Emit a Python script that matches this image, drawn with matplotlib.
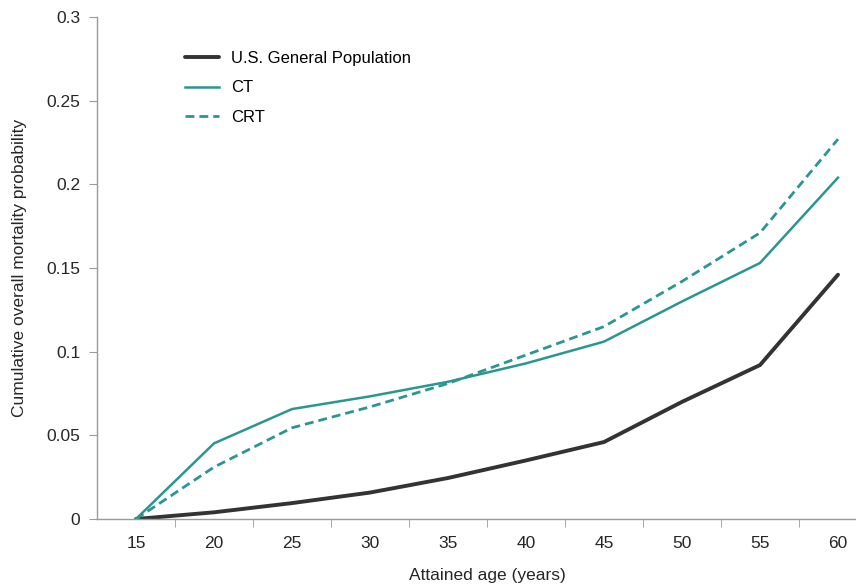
#!/usr/bin/env python3
"""Cumulative overall mortality by attained age: CT, CRT vs U.S. general population."""

import matplotlib

matplotlib.use("Agg")
import matplotlib.pyplot as plt

AGES = ["15", "20", "25", "30", "35", "40", "45", "50", "55", "60"]
GENERAL_POP = [0.0, 0.004, 0.0095, 0.0158, 0.0245, 0.035, 0.046, 0.070, 0.092, 0.146]
CT = [0.0, 0.0452, 0.0657, 0.0733, 0.082, 0.093, 0.106, 0.130, 0.153, 0.204]
CRT = [0.0, 0.031, 0.0545, 0.0670, 0.081, 0.098, 0.115, 0.142, 0.171, 0.227]
Y_TICKS = [0, 0.05, 0.1, 0.15, 0.2, 0.25, 0.3]
Y_LABELS = ["0", "0.05", "0.1", "0.15", "0.2", "0.25", "0.3"]

TEAL = "#2a9690"
DARK = "#333333"
AXIS = "#9a9a9a"
TEXT = "#262626"


def main() -> int:
    plt.rcParams.update(
        {
            "font.family": ["Liberation Sans", "DejaVu Sans"],
            "font.size": 12.5,
        }
    )

    fig = plt.figure(figsize=(8.56, 5.85), dpi=100, facecolor="white")
    # plot area runs past the right edge of the picture, as in the reference crop
    ax = fig.add_axes([97 / 856, 1 - 519 / 585, 780 / 856, 502 / 585])

    x = list(range(len(AGES)))
    ax.plot(x, GENERAL_POP, color=DARK, lw=2.8, label="U.S. General Population", solid_capstyle="round")
    ax.plot(x, CT, color=TEAL, lw=1.8, label="CT")
    ax.plot(x, CRT, color=TEAL, lw=2.0, ls=(0, (3.2, 1.8)), label="CRT")

    ax.set_xlim(-0.5, len(AGES) - 0.5)
    ax.set_ylim(0, 0.3)
    ax.set_yticks(Y_TICKS, Y_LABELS)
    ax.set_xticks(x, AGES)
    ax.set_xticks([i + 0.5 for i in x[:-1]], minor=True)

    for side in ["top", "right"]:
        ax.spines[side].set_visible(False)
    for side in ["left", "bottom"]:
        ax.spines[side].set_color(AXIS)
        ax.spines[side].set_linewidth(1.0)

    ax.tick_params(axis="y", direction="out", length=6, color=AXIS, labelcolor=TEXT, pad=6)
    ax.tick_params(axis="x", which="major", length=0, labelcolor=TEXT, pad=12)
    ax.tick_params(axis="x", which="minor", direction="out", length=6, color=AXIS)

    ax.set_ylabel("Cumulative overall mortality probability", labelpad=14, color=TEXT)
    ax.set_xlabel("Attained age (years)", labelpad=12.5, color=TEXT)

    ax.legend(
        loc="upper left",
        bbox_to_anchor=(0.094, 0.962),
        frameon=False,
        fontsize=12,
        handlelength=2.0,
        handletextpad=0.75,
        labelspacing=0.86,
    )

    fig.savefig("out.png", dpi=100, facecolor=fig.get_facecolor())
    plt.close(fig)
    return 0


if __name__ == "__main__":
    raise SystemExit(main())
